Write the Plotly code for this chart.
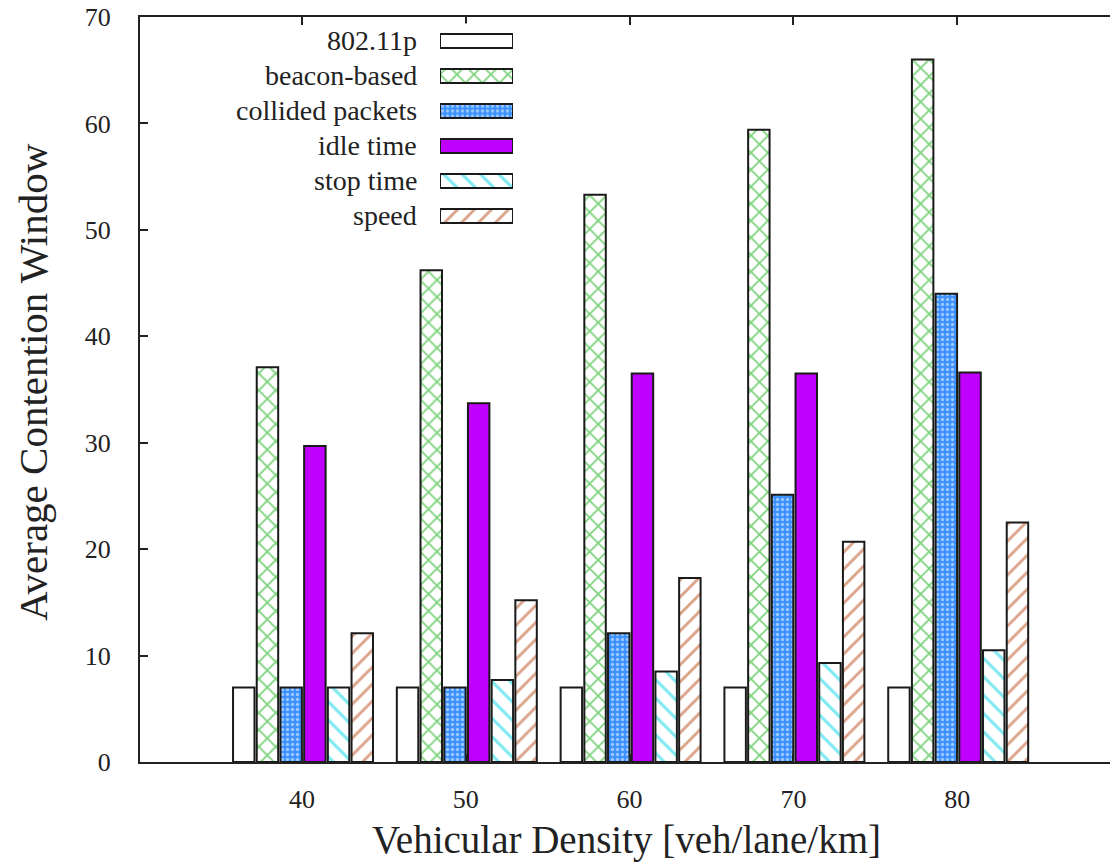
import plotly.graph_objects as go

densities = [40, 50, 60, 70, 80]
series_names = ["802.11p", "beacon-based", "collided packets", "idle time", "stop time", "speed"]
v_80211p = [7.0, 7.0, 7.0, 7.0, 7.0]
v_beacon = [37.1, 46.2, 53.3, 59.4, 66.0]
v_collided = [7.0, 7.0, 12.1, 25.1, 44.0]
v_idle = [29.7, 33.7, 36.5, 36.5, 36.6]
v_stop = [7.0, 7.7, 8.5, 9.3, 10.5]
v_speed = [12.1, 15.2, 17.3, 20.7, 22.5]
values = [v_80211p, v_beacon, v_collided, v_idle, v_stop, v_speed]

styles = [
    dict(color="white", pattern=None),
    dict(color="white", pattern=dict(shape="x", fgcolor="#00a800", bgcolor="white", size=12, solidity=0.28)),
    dict(color="#3a91ff", pattern=dict(shape=".", fgcolor="white", bgcolor="#3a91ff", size=5, solidity=0.35)),
    dict(color="#bf00ff", pattern=None),
    dict(color="white", pattern=dict(shape="\\", fgcolor="#00d4e6", bgcolor="white", size=13, solidity=0.24)),
    dict(color="white", pattern=dict(shape="/", fgcolor="#b84814", bgcolor="white", size=12, solidity=0.24)),
]

FONT = "Liberation Serif"
TXT = "#222222"
pitch = 1.447
bw = 1.31
first = -4.21

W, H = 1110, 863
L, T, B = 140, 17, 101
plot_w = W - L
plot_h = H - T - B

def px(xpage):
    return (xpage - L) / plot_w

def py(ypage):
    return (H - B - ypage) / plot_h

fig = go.Figure()
for i, (name, vals, st) in enumerate(zip(series_names, values, styles)):
    marker = dict(color=st["color"], line=dict(color="#1a1a1a", width=2))
    if st["pattern"]:
        marker["pattern"] = st["pattern"]
    fig.add_trace(go.Bar(
        x=densities, y=vals, name=name, width=bw, offset=first + i * pitch,
        marker=marker, showlegend=False, xaxis="x", yaxis="y",
    ))
    # legend swatch
    fig.add_trace(go.Bar(
        x=[1], y=[name], orientation="h", width=0.4, base=0,
        marker=marker, showlegend=False, xaxis="x2", yaxis="y2",
        hoverinfo="skip",
    ))

annotations = []
for name in series_names:
    annotations.append(dict(
        x=px(419), xref="paper", y=name, yref="y2", text=name, showarrow=False,
        xanchor="right", yanchor="middle", font=dict(family=FONT, size=28, color=TXT),
    ))
annotations.append(dict(
    x=px(626), xref="paper", y=py(840), yref="paper", text="Vehicular Density [veh/lane/km]",
    showarrow=False, xanchor="center", yanchor="middle", font=dict(family=FONT, size=39, color=TXT),
))
annotations.append(dict(
    x=px(33), xref="paper", y=py(382), yref="paper", text="Average Contention Window", textangle=-90,
    showarrow=False, xanchor="center", yanchor="middle", font=dict(family=FONT, size=41, color=TXT),
))

fig.update_layout(
    width=W, height=H,
    margin=dict(l=L, r=0, t=T, b=B, autoexpand=False),
    paper_bgcolor="white", plot_bgcolor="white",
    barmode="overlay",
    font=dict(family=FONT, color=TXT),
    annotations=annotations,
    xaxis=dict(
        range=[30.11, 89.33], tickvals=densities, ticktext=[str(d) for d in densities],
        showgrid=False, zeroline=False, showline=True, linecolor="#222", linewidth=2,
        mirror="ticks", ticks="inside", ticklen=8, tickwidth=2, tickcolor="#222",
        tickfont=dict(family=FONT, size=26, color=TXT), ticklabelstandoff=13, automargin=False,
        ticklabeloverflow="allow",
    ),
    yaxis=dict(
        range=[0, 70], dtick=10, showgrid=False, zeroline=False, showline=True,
        linecolor="#222", linewidth=2, ticks="inside", ticklen=8, tickwidth=2, tickcolor="#222",
        tickfont=dict(family=FONT, size=26, color=TXT), ticklabelstandoff=22, automargin=False,
        ticklabeloverflow="allow",
    ),
    xaxis2=dict(domain=[px(440), px(513)], range=[0, 1], anchor="y2", visible=False, fixedrange=True),
    yaxis2=dict(domain=[py(233.5), py(23.5)], type="category", categoryorder="array",
                categoryarray=series_names, autorange="reversed", anchor="x2", visible=False, fixedrange=True),
)

fig.write_html(
    "out.html",
    config={"displayModeBar": False},
    post_script="document.body.style.margin='0';document.body.style.overflow='hidden';",
)
